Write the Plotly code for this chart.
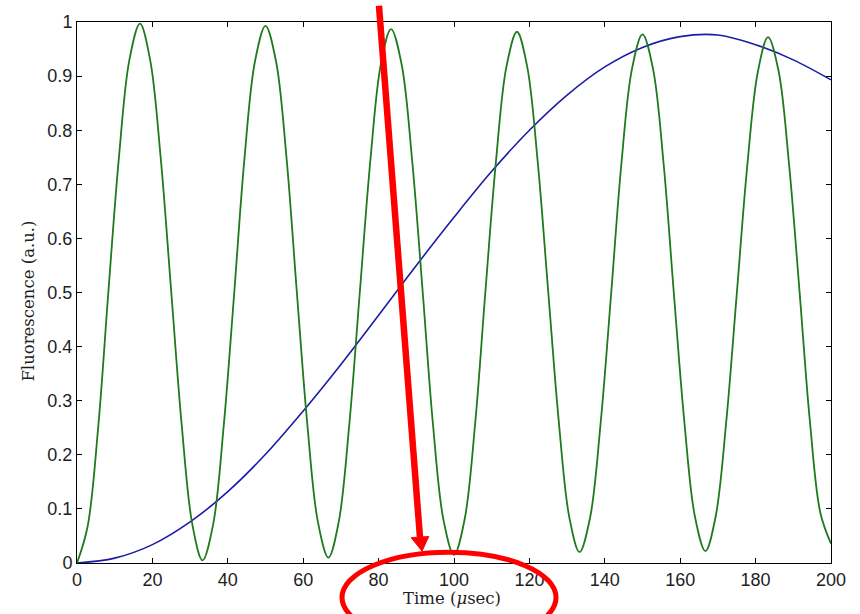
import plotly.graph_objects as go

# ---- data ----
time_green = [0, 2.8, 5.6, 8.3, 11.1, 13.9, 16.7, 19.4, 22.2, 25.0, 27.8, 30.6,
              33.3, 36.1, 38.9, 41.7, 44.4, 47.2, 50.0, 52.8, 55.6, 58.3, 61.1, 63.9,
              66.7, 69.4, 72.2, 75.0, 77.8, 80.6, 83.3, 86.1, 88.9, 91.7, 94.4, 97.2,
              100.0, 102.8, 105.6, 108.3, 111.1, 113.9, 116.7, 119.4, 122.2, 125.0, 127.8, 130.6,
              133.3, 136.1, 138.9, 141.7, 144.4, 147.2, 150.0, 152.8, 155.6, 158.3, 161.1, 163.9,
              166.7, 169.4, 172.2, 175.0, 177.8, 180.6, 183.3, 186.1, 188.9, 191.7, 194.4, 197.2,
              200.0]
fluor_green = [0.0, 0.067, 0.249, 0.499, 0.748, 0.930, 0.997, 0.930, 0.749, 0.501, 0.253, 0.071,
               0.005, 0.071, 0.252, 0.499, 0.746, 0.927, 0.993, 0.927, 0.747, 0.502, 0.256, 0.076,
               0.010, 0.075, 0.254, 0.499, 0.743, 0.922, 0.987, 0.922, 0.744, 0.501, 0.258, 0.080,
               0.015, 0.080, 0.257, 0.499, 0.740, 0.917, 0.982, 0.918, 0.742, 0.501, 0.261, 0.084,
               0.020, 0.084, 0.259, 0.499, 0.738, 0.913, 0.977, 0.913, 0.738, 0.500, 0.261, 0.086,
               0.022, 0.086, 0.260, 0.497, 0.735, 0.908, 0.972, 0.909, 0.735, 0.498, 0.262, 0.092,
               0.036]

time_blue = [0, 10, 20, 30, 40, 50, 60, 70, 80, 90, 100, 110, 120, 130, 140, 150, 160,
             170, 180, 190, 200]
fluor_blue = [0.0, 0.009, 0.034, 0.076, 0.132, 0.201, 0.281, 0.367, 0.458, 0.550, 0.639,
              0.724, 0.800, 0.865, 0.917, 0.953, 0.973, 0.976, 0.958, 0.930, 0.893]

x_ticks = [0, 20, 40, 60, 80, 100, 120, 140, 160, 180, 200]
y_ticks = [0, 0.1, 0.2, 0.3, 0.4, 0.5, 0.6, 0.7, 0.8, 0.9, 1]
y_tick_text = ["0", "0.1", "0.2", "0.3", "0.4", "0.5", "0.6", "0.7", "0.8", "0.9", "1"]

x_title = "Time (<i>μ</i>sec)"
y_title = "Fluorescence (a.u.)"

fig = go.Figure()
fig.add_trace(go.Scatter(x=time_blue, y=fluor_blue, mode="lines",
                         line=dict(color="#1c1ca6", width=1.6, shape="spline"),
                         showlegend=False))
fig.add_trace(go.Scatter(x=time_green, y=fluor_green, mode="lines",
                         line=dict(color="#1f7a1f", width=1.8, shape="spline"),
                         showlegend=False))

axis_common = dict(showline=True, linecolor="black", linewidth=1, mirror="allticks",
                   ticks="inside", ticklen=5, tickcolor="black", showgrid=False,
                   zeroline=False,
                   tickfont=dict(family="Liberation Sans, Arial, sans-serif", size=18,
                                 color="#1e1e1e"))
fig.update_xaxes(range=[0, 200], tickvals=x_ticks, **axis_common)
fig.update_yaxes(range=[0, 1], tickvals=y_ticks, ticktext=y_tick_text, **axis_common)

serif = dict(family="DejaVu Serif, serif", size=16.5, color="#1e1e1e")
fig.add_annotation(text=x_title, xref="paper", yref="paper", x=0.4973, y=-0.066,
                   xanchor="center", yanchor="middle", showarrow=False, font=serif)
fig.add_annotation(text=y_title, xref="paper", yref="paper", x=-0.0637, y=0.485,
                   xanchor="center", yanchor="middle", showarrow=False, textangle=-90,
                   font=serif)

red = "#ff0000"
# arrow shaft
fig.add_shape(type="line", xref="paper", yref="paper",
              x0=0.4005, y0=1.03, x1=0.4549, y1=0.047,
              line=dict(color=red, width=6.5), layer="above")
# arrow head
fig.add_shape(type="path", xref="paper", yref="paper",
              path="M 0.4576 0.0219 L 0.4665 0.0490 L 0.4433 0.0468 Z",
              fillcolor=red, line=dict(color=red, width=1), layer="above")
# ellipse around x-axis label
fig.add_shape(type="circle", xref="paper", yref="paper",
              x0=0.3515, x1=0.6353, y0=-0.1478, y1=0.0201,
              line=dict(color=red, width=5), fillcolor="rgba(0,0,0,0)", layer="above")

fig.update_layout(width=860, height=614, margin=dict(l=77, r=29, t=15, b=51),
                  plot_bgcolor="white", paper_bgcolor="white")

fig.write_html("out.html", config={"displayModeBar": False},
               post_script="document.body.style.margin='0';document.body.style.padding='0';")
